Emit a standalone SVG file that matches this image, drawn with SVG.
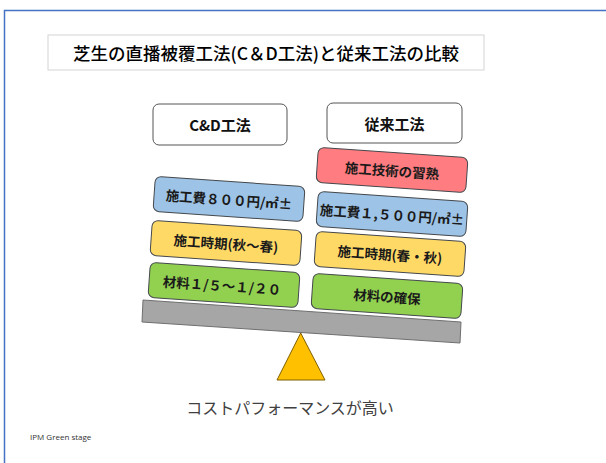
<svg xmlns="http://www.w3.org/2000/svg" width="606" height="463" viewBox="0 0 606 463">
<style>
.jp{font-family:"Noto Sans CJK JP","Noto Sans CJK SC",sans-serif}
.box{stroke:#44484c;stroke-width:1}
.lbl{font-family:"Noto Sans CJK JP",sans-serif;font-weight:bold;font-size:13.5px;fill:#1a1a1a;text-anchor:middle;dominant-baseline:central}
.hdr{fill:#fff;stroke:#555;stroke-width:1}
.hlbl{font-family:"Noto Sans CJK JP",sans-serif;font-weight:bold;font-size:15px;fill:#111;text-anchor:middle;dominant-baseline:central}
</style>
<rect width="606" height="463" fill="#fff"/>
<g id="frame">
<path d="M4.5 463 V10.5 H606" fill="none" stroke="#4472C4" stroke-width="1.5"/>
</g>
<g id="title">
<rect x="48" y="35" width="436" height="35" fill="#fff" stroke="#d4d4d4" stroke-width="1"/>
<text x="266" y="59.5" class="jp" font-size="17.5" font-weight="500" text-anchor="middle" fill="#000">芝生の直播被覆工法(C＆D工法)と従来工法の比較</text>
</g>
<g id="hdr-cd">
<rect x="153" y="104" width="134" height="41" rx="6" class="hdr"/>
<text x="220" y="124.5" class="hlbl">C&amp;D工法</text>
</g>
<g id="hdr-conv">
<rect x="327" y="103" width="135" height="40" rx="6" class="hdr"/>
<text x="394.5" y="123" class="hlbl" font-size="16">従来工法</text>
</g>
<g id="beam">
<polygon points="143,300 461,322 460,343 142,322" fill="#A6A6A6" stroke="#6f6f6f" stroke-width="1"/>
</g>
<g id="fulcrum">
<polygon points="300.7,333 277,380 325,380" fill="#FFC000" stroke="#7f6000" stroke-width="1"/>
</g>
<g id="l-cost" transform="translate(229,199) rotate(4)">
<rect x="-75" y="-17.5" width="150" height="35" rx="6" class="box" fill="#9DC3E6"/>
<text class="lbl" x="0" y="0">施工費８００円/㎡±</text>
</g>
<g id="l-time" transform="translate(226,243) rotate(4)">
<rect x="-75" y="-17.5" width="150" height="35" rx="6" class="box" fill="#FFD966"/>
<text class="lbl" x="0" y="0">施工時期(秋～春)</text>
</g>
<g id="l-mat" transform="translate(224,285) rotate(4)">
<rect x="-75" y="-17.5" width="150" height="35" rx="6" class="box" fill="#92D050"/>
<text class="lbl" x="-2" y="0">材料１/５～１/２０</text>
</g>
<g id="r-skill" transform="translate(392,170) rotate(4)">
<rect x="-75" y="-17.5" width="150" height="35" rx="6" class="box" fill="#FF7C80"/>
<text class="lbl" x="0" y="0">施工技術の習熟</text>
</g>
<g id="r-cost" transform="translate(392,214) rotate(4)">
<rect x="-75" y="-17.5" width="150" height="35" rx="6" class="box" fill="#9DC3E6"/>
<text class="lbl" x="0" y="0">施工費１,５００円/㎡±</text>
</g>
<g id="r-time" transform="translate(390,254) rotate(4)">
<rect x="-75" y="-17.5" width="150" height="35" rx="6" class="box" fill="#FFD966"/>
<text class="lbl" x="0" y="0">施工時期(春・秋)</text>
</g>
<g id="r-mat" transform="translate(387,296) rotate(4)">
<rect x="-75" y="-17.5" width="150" height="35" rx="6" class="box" fill="#92D050"/>
<text class="lbl" x="0" y="0">材料の確保</text>
</g>
<g id="caption">
<text x="290" y="414" class="jp" font-size="16" text-anchor="middle" fill="#404040">コストパフォーマンスが高い</text>
</g>
<g id="credit">
<text x="30" y="440" font-family="Open Sans, sans-serif" font-size="8" fill="#333">IPM Green stage</text>
</g>
</svg>
